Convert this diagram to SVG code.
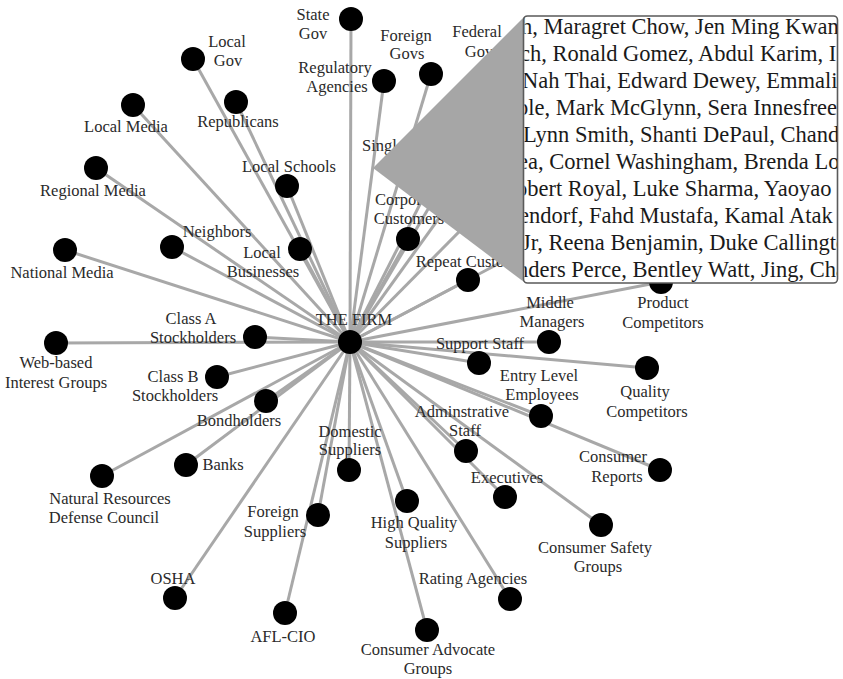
<svg xmlns="http://www.w3.org/2000/svg" width="843" height="679" viewBox="0 0 843 679">
  <style>
    .edge { stroke: #a8a8a8; stroke-width: 3; fill: none; }
    .dot { fill: #000; }
    .lbl { font-family: "Liberation Serif", "Times New Roman", serif; font-size: 16.5px; fill: #2a2a2a; text-anchor: middle; }
    .names { font-family: "Liberation Serif", "Times New Roman", serif; font-size: 22.5px; fill: #1a1a1a; }
  </style>
  <defs>
    <clipPath id="boxClip">
      <rect x="524.5" y="17" width="312.5" height="265"/>
    </clipPath>
  </defs>
  <rect width="843" height="679" fill="#fff"/>

  <!-- spokes from the hub -->
  <g id="connectors">
    <line class="edge" x1="350" y1="342" x2="351" y2="19"/>
    <line class="edge" x1="350" y1="342" x2="384" y2="81"/>
    <line class="edge" x1="350" y1="342" x2="431" y2="74"/>
    <line class="edge" x1="350" y1="342" x2="505" y2="78"/>
    <line class="edge" x1="350" y1="342" x2="445" y2="155"/>
    <line class="edge" x1="350" y1="342" x2="470" y2="175"/>
    <line class="edge" x1="350" y1="342" x2="540" y2="150"/>
    <line class="edge" x1="350" y1="342" x2="570" y2="226"/>
    <line class="edge" x1="350" y1="342" x2="193" y2="59"/>
    <line class="edge" x1="350" y1="342" x2="236" y2="102"/>
    <line class="edge" x1="350" y1="342" x2="287" y2="186"/>
    <line class="edge" x1="350" y1="342" x2="133" y2="105"/>
    <line class="edge" x1="350" y1="342" x2="96" y2="168"/>
    <line class="edge" x1="350" y1="342" x2="300" y2="249"/>
    <line class="edge" x1="350" y1="342" x2="172" y2="247"/>
    <line class="edge" x1="350" y1="342" x2="65" y2="250"/>
    <line class="edge" x1="350" y1="342" x2="255" y2="337"/>
    <line class="edge" x1="350" y1="342" x2="56" y2="343"/>
    <line class="edge" x1="350" y1="342" x2="217" y2="377"/>
    <line class="edge" x1="350" y1="342" x2="266" y2="401"/>
    <line class="edge" x1="350" y1="342" x2="186" y2="465"/>
    <line class="edge" x1="350" y1="342" x2="102" y2="476"/>
    <line class="edge" x1="350" y1="342" x2="175" y2="598"/>
    <line class="edge" x1="350" y1="342" x2="285" y2="613"/>
    <line class="edge" x1="350" y1="342" x2="318" y2="515"/>
    <line class="edge" x1="350" y1="342" x2="349" y2="470"/>
    <line class="edge" x1="350" y1="342" x2="407" y2="501"/>
    <line class="edge" x1="350" y1="342" x2="427" y2="630"/>
    <line class="edge" x1="350" y1="342" x2="510" y2="599"/>
    <line class="edge" x1="350" y1="342" x2="505" y2="497"/>
    <line class="edge" x1="350" y1="342" x2="601" y2="525"/>
    <line class="edge" x1="350" y1="342" x2="466" y2="451"/>
    <line class="edge" x1="350" y1="342" x2="660" y2="470"/>
    <line class="edge" x1="350" y1="342" x2="541" y2="416"/>
    <line class="edge" x1="350" y1="342" x2="647" y2="368"/>
    <line class="edge" x1="350" y1="342" x2="479" y2="363"/>
    <line class="edge" x1="350" y1="342" x2="549" y2="342"/>
    <line class="edge" x1="350" y1="342" x2="661" y2="282"/>
    <line class="edge" x1="350" y1="342" x2="408" y2="239"/>
    <line class="edge" x1="350" y1="342" x2="468" y2="280"/>
  </g>

  <g id="the-firm"><circle class="dot" cx="350" cy="342" r="12"/><text class="lbl" x="354" y="325">THE FIRM</text></g>
  <g id="state-gov"><circle class="dot" cx="351" cy="19" r="12"/><text class="lbl" x="313" y="20">State</text><text class="lbl" x="313" y="39">Gov</text></g>
  <g id="regulatory-agencies"><circle class="dot" cx="384" cy="81" r="12"/><text class="lbl" x="335" y="73">Regulatory</text><text class="lbl" x="337" y="92">Agencies</text></g>
  <g id="foreign-govs"><circle class="dot" cx="431" cy="74" r="12"/><text class="lbl" x="406" y="41">Foreign</text><text class="lbl" x="407" y="59">Govs</text></g>
  <g id="federal-gov"><circle class="dot" cx="505" cy="78" r="12"/><text class="lbl" x="477" y="37">Federal</text><text class="lbl" x="479" y="57">Gov</text></g>
  <g id="single-customers"><circle class="dot" cx="445" cy="155" r="12"/><text class="lbl" x="362" y="151" style="text-anchor:start">Single</text></g>
  <g id="local-gov"><circle class="dot" cx="193" cy="59" r="12"/><text class="lbl" x="227" y="47">Local</text><text class="lbl" x="228" y="66">Gov</text></g>
  <g id="republicans"><circle class="dot" cx="236" cy="102" r="12"/><text class="lbl" x="238" y="127">Republicans</text></g>
  <g id="local-schools"><circle class="dot" cx="287" cy="186" r="12"/><text class="lbl" x="289" y="172">Local Schools</text></g>
  <g id="local-media"><circle class="dot" cx="133" cy="105" r="12"/><text class="lbl" x="126" y="132">Local Media</text></g>
  <g id="regional-media"><circle class="dot" cx="96" cy="168" r="12"/><text class="lbl" x="93" y="196">Regional Media</text></g>
  <g id="local-businesses"><circle class="dot" cx="300" cy="249" r="12"/><text class="lbl" x="262" y="258">Local</text><text class="lbl" x="263" y="277">Businesses</text></g>
  <g id="neighbors"><circle class="dot" cx="172" cy="247" r="12"/><text class="lbl" x="217" y="237">Neighbors</text></g>
  <g id="national-media"><circle class="dot" cx="65" cy="250" r="12"/><text class="lbl" x="62" y="278">National Media</text></g>
  <g id="class-a-stockholders"><circle class="dot" cx="255" cy="337" r="12"/><text class="lbl" x="191" y="324">Class A</text><text class="lbl" x="193" y="343">Stockholders</text></g>
  <g id="web-based-interest-groups"><circle class="dot" cx="56" cy="343" r="12"/><text class="lbl" x="56" y="368">Web-based</text><text class="lbl" x="56" y="388">Interest Groups</text></g>
  <g id="class-b-stockholders"><circle class="dot" cx="217" cy="377" r="12"/><text class="lbl" x="173" y="382">Class B</text><text class="lbl" x="175" y="401">Stockholders</text></g>
  <g id="bondholders"><circle class="dot" cx="266" cy="401" r="12"/><text class="lbl" x="239" y="426">Bondholders</text></g>
  <g id="banks"><circle class="dot" cx="186" cy="465" r="12"/><text class="lbl" x="223" y="470">Banks</text></g>
  <g id="nrdc"><circle class="dot" cx="102" cy="476" r="12"/><text class="lbl" x="110" y="504">Natural Resources</text><text class="lbl" x="104" y="523">Defense Council</text></g>
  <g id="osha"><circle class="dot" cx="175" cy="598" r="12"/><text class="lbl" x="173" y="584">OSHA</text></g>
  <g id="afl-cio"><circle class="dot" cx="285" cy="613" r="12"/><text class="lbl" x="283" y="642">AFL-CIO</text></g>
  <g id="foreign-suppliers"><circle class="dot" cx="318" cy="515" r="12"/><text class="lbl" x="273" y="517">Foreign</text><text class="lbl" x="275" y="537">Suppliers</text></g>
  <g id="domestic-suppliers"><circle class="dot" cx="349" cy="470" r="12"/><text class="lbl" x="350" y="437">Domestic</text><text class="lbl" x="350" y="455">Suppliers</text></g>
  <g id="high-quality-suppliers"><circle class="dot" cx="407" cy="501" r="12"/><text class="lbl" x="414" y="528">High Quality</text><text class="lbl" x="416" y="548">Suppliers</text></g>
  <g id="consumer-advocate-groups"><circle class="dot" cx="427" cy="630" r="12"/><text class="lbl" x="428" y="655">Consumer Advocate</text><text class="lbl" x="428" y="674">Groups</text></g>
  <g id="rating-agencies"><circle class="dot" cx="510" cy="599" r="12"/><text class="lbl" x="473" y="584">Rating Agencies</text></g>
  <g id="executives"><circle class="dot" cx="505" cy="497" r="12"/><text class="lbl" x="507" y="483">Executives</text></g>
  <g id="consumer-safety-groups"><circle class="dot" cx="601" cy="525" r="12"/><text class="lbl" x="595" y="553">Consumer Safety</text><text class="lbl" x="598" y="572">Groups</text></g>
  <g id="administrative-staff"><circle class="dot" cx="466" cy="451" r="12"/><text class="lbl" x="462" y="417">Adminstrative</text><text class="lbl" x="465" y="436">Staff</text></g>
  <g id="consumer-reports"><circle class="dot" cx="660" cy="470" r="12"/><text class="lbl" x="613" y="462">Consumer</text><text class="lbl" x="617" y="482">Reports</text></g>
  <g id="entry-level-employees"><circle class="dot" cx="541" cy="416" r="12"/><text class="lbl" x="539" y="381">Entry Level</text><text class="lbl" x="542" y="400">Employees</text></g>
  <g id="quality-competitors"><circle class="dot" cx="647" cy="368" r="12"/><text class="lbl" x="645" y="397">Quality</text><text class="lbl" x="647" y="417">Competitors</text></g>
  <g id="support-staff"><circle class="dot" cx="479" cy="363" r="12"/><text class="lbl" x="480" y="349">Support Staff</text></g>
  <g id="middle-managers"><circle class="dot" cx="549" cy="342" r="12"/><text class="lbl" x="550" y="308">Middle</text><text class="lbl" x="552" y="327">Managers</text></g>
  <g id="product-competitors"><circle class="dot" cx="661" cy="282" r="12"/><text class="lbl" x="663" y="308">Product</text><text class="lbl" x="663" y="328">Competitors</text></g>
  <g id="corporate-customers"><circle class="dot" cx="408" cy="239" r="12"/><text class="lbl" x="408" y="205">Corporate</text><text class="lbl" x="409" y="224">Customers</text></g>
  <g id="repeat-customers"><circle class="dot" cx="468" cy="280" r="12"/><text class="lbl" x="476" y="267">Repeat Customers</text></g>

  <!-- magnified callout of the stakeholder name list -->
  <g id="callout">
    <polygon points="373,168 524,17 524,282" fill="#a6a6a6"/>
    <rect x="523.5" y="16" width="314" height="267" rx="4" fill="#fff" stroke="#5a5a5a" stroke-width="1.6"/>
    <g class="names" clip-path="url(#boxClip)">
      <text x="521" y="34">h, Maragret Chow, Jen Ming Kwan</text>
      <text x="520" y="61">ch, Ronald Gomez, Abdul Karim, I</text>
      <text x="522" y="88">Nah Thai, Edward Dewey, Emmaline</text>
      <text x="517" y="115">ple, Mark McGlynn, Sera Innesfree</text>
      <text x="523" y="142">Lynn Smith, Shanti DePaul, Chand</text>
      <text x="518" y="169">ea, Cornel Washingham, Brenda Lo</text>
      <text x="516" y="196">obert Royal, Luke Sharma, Yaoyao</text>
      <text x="519" y="223">endorf, Fahd Mustafa, Kamal Atak</text>
      <text x="522" y="250">Jr, Reena Benjamin, Duke Callington</text>
      <text x="517" y="277">nders Perce, Bentley Watt, Jing, Cha</text>
    </g>
  </g>
</svg>
